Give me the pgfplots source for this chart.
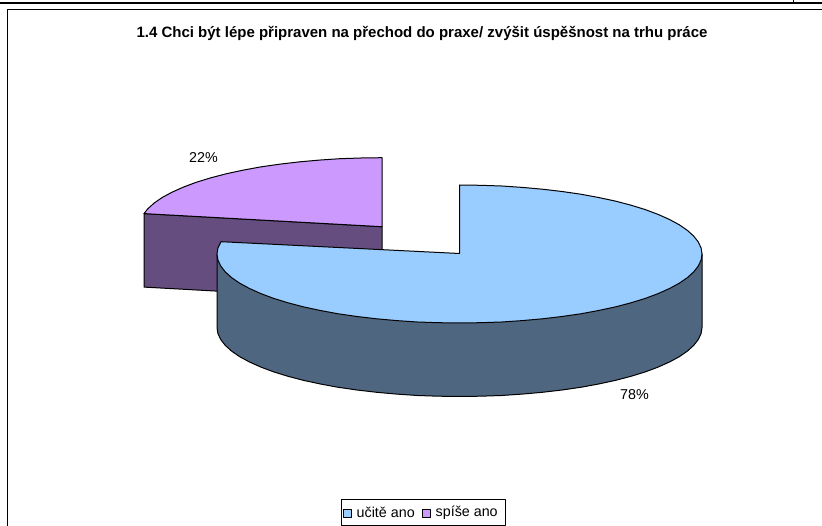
\documentclass[border=0pt]{standalone}
\usepackage{pgfplots}
\pgfplotsset{compat=1.18}
\usepackage{fontspec}
\setmainfont{Liberation Sans}
\definecolor{blueTop}{HTML}{99CCFF}
\definecolor{blueSide}{HTML}{4F6680}
\definecolor{purpleTop}{HTML}{CC99FF}
\definecolor{purpleSide}{HTML}{664D7F}
\begin{document}
\begin{tikzpicture}
\begin{axis}[
  scale only axis, width=822pt, height=526pt,
  xmin=0, xmax=822, ymin=0, ymax=526, y dir=reverse,
  axis lines=none, clip=true, enlargelimits=false,
  every axis plot/.append style={line join=round}
]
% page rules and chart frame
\addplot[black, line width=2.4pt] coordinates {(0,3) (822,3)};
\addplot[black, line width=1pt] coordinates {(793,0) (793,3)};
\addplot[black, line width=1.2pt] coordinates {(7.3,526) (7.3,9.3) (822,9.3)};
% purple slice, side
\addplot[fill=purpleSide, draw=black, line width=1pt] coordinates {(144,213.6) (382,226.7) (382,300.2) (144,287.1)} -- cycle;
% purple slice, top
\addplot[fill=purpleTop, draw=black, line width=1pt] coordinates {
(144,213.6) (147.8,208.8) (154.1,203.1) (162.2,197.5) (172,192.2) (183.4,187.1) (196.2,182.3) (210.5,177.9) (226.1,173.8) (242.9,170.2) (260.7,166.9) (279.5,164.2) (299.1,161.9) (319.2,160.1) (339.9,158.7) (360.9,158) (382,157.7) (382,226.7)} -- cycle;
% blue slice, side
\addplot[fill=blueSide, draw=black, line width=1pt] coordinates {
(702,254) (702,327.5) (701.1,333.5) (698.3,339.5) (693.7,345.4) (687.4,351.1) (679.3,356.7) (669.5,362) (658.1,367.1) (645.3,371.9) (631,376.3) (615.4,380.4) (598.6,384) (580.8,387.3) (562,390) (542.4,392.3) (522.3,394.1) (501.6,395.5) (480.6,396.2) (459.5,396.5) (438.4,396.2) (417.4,395.5) (396.7,394.1) (376.6,392.3) (357,390) (338.2,387.3) (320.4,384) (303.6,380.4) (288,376.3) (273.7,371.9) (260.9,367.1) (249.5,362) (239.7,356.7) (231.6,351.1) (225.3,345.4) (220.7,339.5) (217.9,333.5) (217,327.5) (217,254)} -- cycle;
% blue slice, top
\addplot[fill=blueTop, draw=black, line width=1pt] coordinates {
(459.5,185) (480.6,185.3) (501.6,186) (522.3,187.4) (542.4,189.2) (562,191.5) (580.8,194.2) (598.6,197.5) (615.4,201.1) (631,205.2) (645.3,209.6) (658.1,214.4) (669.5,219.5) (679.3,224.8) (687.4,230.4) (693.7,236.1) (698.3,242) (701.1,248) (702,254) (701.1,260) (698.3,266) (693.7,271.9) (687.4,277.6) (679.3,283.2) (669.5,288.5) (658.1,293.6) (645.3,298.4) (631,302.8) (615.4,306.9) (598.6,310.5) (580.8,313.8) (562,316.5) (542.4,318.8) (522.3,320.6) (501.6,322) (480.6,322.7) (459.5,323) (438.4,322.7) (417.4,322) (396.7,320.6) (376.6,318.8) (357,316.5) (338.2,313.8) (320.4,310.5) (303.6,306.9) (288,302.8) (273.7,298.4) (260.9,293.6) (249.5,288.5) (239.7,283.2) (231.6,277.6) (225.3,271.9) (220.7,266) (217.9,260) (217,254) (217.9,248) (221,241.7) (459.5,253.5)} -- cycle;
% legend box
\addplot[fill=white, draw=black, line width=0.9pt] coordinates {(341.5,499.5) (505.5,499.5) (505.5,525.5) (341.5,525.5)} -- cycle;
\addplot[fill=blueTop, draw=black, line width=0.9pt] coordinates {(343.5,509.5) (351,509.5) (351,517.5) (343.5,517.5)} -- cycle;
\addplot[fill=purpleTop, draw=black, line width=0.9pt] coordinates {(422.5,509.5) (430.5,509.5) (430.5,517.5) (422.5,517.5)} -- cycle;
\node[anchor=center, font=\bfseries\fontsize{15}{17}\selectfont] at (axis cs:422,33) {1.4 Chci být lépe připraven na přechod do praxe/ zvýšit úspěšnost na trhu práce};
\node[font=\fontsize{14.3}{16}\selectfont] at (axis cs:203.5,158) {22\%};
\node[font=\fontsize{14.3}{16}\selectfont] at (axis cs:634.5,395) {78\%};
\node[anchor=west, inner sep=0pt, font=\fontsize{14.3}{16}\selectfont] at (axis cs:356.5,512.7) {učitě ano};
\node[anchor=west, inner sep=0pt, font=\fontsize{14.3}{16}\selectfont] at (axis cs:435.5,512.7) {spíše ano};
\end{axis}
\end{tikzpicture}
\end{document}
